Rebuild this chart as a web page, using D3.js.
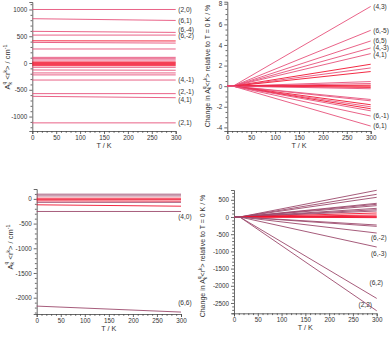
<!DOCTYPE html>
<html>
<head>
<meta charset="utf-8">
<script src="https://cdn.jsdelivr.net/npm/d3@7"></script>
<style>
  body { margin: 0; background: #fff; }
  svg { display: block; font-family: "Liberation Sans", Arial, sans-serif; }
</style>
</head>
<body>
<svg id="chart" width="390" height="337"></svg>
<script>
// crystal-field parameters A_k^q<r^k> vs temperature

// top left: parameters at 0 K and 300 K (cm-1)
const tlLabels = ['(2,0)', '(6,1)', '(6,-4)', '(6,-2)', '', '', '', '', '', '', '', '', '', '', '', '', '', '', '', '(4,-1)', '(2,-1)', '(4,1)', '(2,1)'];
const tlAt0 = [1000, 828, 592, 522, 415, 385, 262, 106, 82, 56, 20, 5, -12, -30, -50, -80, -130, -185, -222, -318, -572, -622, -1118];
const tlAt300 = [1000, 795, 572, 522, 412, 372, 262, 106, 80, 56, 20, 5, -12, -30, -50, -80, -135, -185, -222, -318, -572, -648, -1118];

// top right: change relative to 0 K at 300 K (%)
const trLabels = ['(4,3)', '(6,-5)', '(6,5)', '(4,-3)', '(4,1)', '', '', '', '', '', '', '', '', '', '', '', '', '', '', '', '(6,-1)', '(6,1)'];
const trAt300 = [7.74, 5.42, 4.39, 3.71, 3.16, 2.13, 1.77, 1.42, 0.45, 0.26, 0.1, 0, -0.12, -0.25, -1.29, -1.42, -1.8, -2.0, -2.19, -2.39, -2.9, -3.87];

// bottom left: parameters at 0 K and 300 K (cm-1)
const blLabels = ['', '', '', '', '', '', '', '(4,0)', '(6,6)'];
const blAt0 = [95, 60, 14, -10, -40, -70, -120, -255, -2170];
const blAt300 = [95, 60, 14, -10, -45, -70, -148, -255, -2291];

// bottom right: change relative to 0 K at 300 K (%)
const brLabels = ['', '', '', '', '', '', '', '', '', '', '', '', '', '', '', '', '(6,-2)', '(6,-3)', '(6,2)', '(2,2)'];
const brAt300 = [776, 660, 572, 398, 369, 330, 252, 213, 175, 116, 58, 20, 0, -19, -233, -272, -466, -873, -2367, -2726];

// relative change stays at zero up to this temperature
const onsetT = 12;

const xTicks = [0, 50, 100, 150, 200, 250, 300];

const svg = d3.select('#chart');

const pink = '#e7517a';
const red = '#f2122e';
const mauve = '#9c4a6c';

// panel frames
const panels = {
  tl: { x: [32.3, 175.7], y: [131, 2], dom: [-1270, 1140], major: [-1000, -500, 0, 500, 1000], minor: 100 },
  tr: { x: [227.3, 370.7], y: [131, 1.7], dom: [-4.35, 8.2], major: [-4, -2, 0, 2, 4, 6, 8], minor: 0.5 },
  bl: { x: [36.7, 181], y: [314, 189], dom: [-2330, 200], major: [-2000, -1500, -1000, -500, 0], minor: 100 },
  br: { x: [234, 376.7], y: [313.3, 190], dom: [-2800, 785], major: [-2500, -2000, -1500, -1000, -500, 0, 500], minor: 100 }
};

function frame(p) {
  const x = d3.scaleLinear().domain([0, 300]).range(p.x);
  const y = d3.scaleLinear().domain(p.dom).range(p.y);
  const g = svg.append('g');

  const minorY = d3.range(Math.ceil(p.dom[0] / p.minor) * p.minor, p.dom[1], p.minor)
    .filter((v) => !p.major.some((m) => Math.abs(m - v) < 1e-9));
  const minorX = d3.range(0, 301, 10).filter((v) => v % 50 !== 0);

  g.append('g').attr('transform', `translate(0,${p.y[0]})`)
    .call(d3.axisBottom(x).tickValues(xTicks).tickSize(3).tickPadding(1.5).tickFormat((d) => String(d)));
  g.append('g').attr('transform', `translate(0,${p.y[0]})`)
    .call(d3.axisBottom(x).tickValues(minorX).tickSize(1.8).tickFormat(''))
    .select('.domain').remove();
  g.append('g').attr('transform', `translate(${p.x[0]},0)`)
    .call(d3.axisLeft(y).tickValues(p.major).tickSize(3).tickPadding(2).tickFormat((d) => String(d)));
  g.append('g').attr('transform', `translate(${p.x[0]},0)`)
    .call(d3.axisLeft(y).tickValues(minorY).tickSize(1.8).tickFormat(''))
    .select('.domain').remove();

  g.selectAll('.domain').attr('stroke', '#444').attr('stroke-width', 0.8);
  g.selectAll('.tick line').attr('stroke', '#444').attr('stroke-width', 0.8);
  g.selectAll('.tick text').attr('font-size', 6.3).attr('fill', '#333')
    .attr('font-family', '"Liberation Sans", Arial, sans-serif');

  g.append('text')
    .attr('x', (p.x[0] + p.x[1]) / 2).attr('y', p.y[0] + 17)
    .attr('text-anchor', 'middle').attr('font-size', 7.2).attr('fill', '#333')
    .text('T / K');
  return { x, y, g };
}

// y title: A_k^q<r^k> with stacked indices
function yTitle(x, y, lead, tail, size) {
  const s = size * 0.7;
  const t = svg.append('text')
    .attr('transform', `translate(${x},${y}) rotate(-90)`)
    .attr('text-anchor', 'middle').attr('font-size', size).attr('fill', '#333');
  t.append('tspan').text(lead + 'A');
  t.append('tspan').attr('font-size', s).attr('dy', 1.6).text('k');
  t.append('tspan').attr('font-size', s).attr('dx', -s * 0.5).attr('dy', -size * 0.75).text('q');
  t.append('tspan').attr('dy', size * 0.75 - 1.6).text(tail[0]);
  t.append('tspan').attr('font-size', s).attr('dy', -size * 0.4).text('k');
  t.append('tspan').attr('dy', size * 0.4).text(tail[1]);
  if (tail[2]) {
    t.append('tspan').attr('font-size', s).attr('dy', -size * 0.4).text(tail[2]);
  }
}

function drawLines(f, series, colourOf) {
  const line = d3.line().x((d) => f.x(d[0])).y((d) => f.y(d[1]));
  f.g.append('g').selectAll('path').data(series).enter()
    .append('path')
    .attr('d', (d) => line(d))
    .attr('fill', 'none')
    .attr('stroke', (d, i) => colourOf(i))
    .attr('stroke-width', 0.9);
}

function drawLabels(f, labels, ends, nudge, anchor) {
  labels.forEach((lab, i) => {
    if (!lab) return;
    const n = nudge[lab] || [2.5, 0];
    f.g.append('text')
      .attr('x', f.x(300) + n[0]).attr('y', f.y(ends[i]) + n[1])
      .attr('dy', '0.35em')
      .attr('text-anchor', anchor)
      .attr('font-size', 6.6).attr('fill', '#333')
      .text(lab);
  });
}

// top left
const tlRed = [4, 10, 11, 12, 13, 14];
const ftl = frame(panels.tl);
drawLines(ftl, tlAt0.map((v, i) => [[0, v], [300, tlAt300[i]]]),
  (i) => (tlRed.includes(i) ? red : pink));
drawLabels(ftl, tlLabels, tlAt300,
  { '(6,-4)': [2.5, -3], '(6,-2)': [2.5, 0.5], '(2,-1)': [2.5, -2], '(4,1)': [2.5, 1.5] }, 'start');
yTitle(10, 67, '', [' <r', '> / cm', '-1'], 7.5);

// top right
const trRed = [5, 7, 10, 11, 12, 16, 18];
const ftr = frame(panels.tr);
drawLines(ftr, trAt300.map((v) => [[0, 0], [onsetT, 0], [300, v]]),
  (i) => (trRed.includes(i) ? red : pink));
drawLabels(ftr, trLabels, trAt300, { '(4,-3)': [2.5, -0.5], '(4,1)': [2.5, 0.8] }, 'start');
yTitle(209.5, 66, 'Change in ', ['<r', '> relative to T = 0 K / %'], 7);

// bottom left
const blRed = [2, 3, 4, 6];
const fbl = frame(panels.bl);
drawLines(fbl, blAt0.map((v, i) => [[0, v], [300, blAt300[i]]]),
  (i) => (blRed.includes(i) ? red : mauve));
drawLabels(fbl, blLabels, blAt300, { '(4,0)': [10.7, 5.5], '(6,6)': [10.7, -9.5] }, 'end');
yTitle(12.5, 247, '', [' <r', '> / cm', '-1'], 7.5);

// bottom right
const brRed = [9, 10, 11, 12, 13];
const fbr = frame(panels.br);
drawLines(fbr, brAt300.map((v) => [[0, 0], [onsetT, 0], [300, v]]),
  (i) => (brRed.includes(i) ? red : mauve));
drawLabels(fbr, brLabels, brAt300,
  { '(6,-2)': [10, 4.7], '(6,-3)': [10, 6.3], '(6,2)': [6.3, -16], '(2,2)': [-4.7, -6.5] }, 'end');
yTitle(205, 256, 'Change in ', ['<r', '> relative to T = 0 K / %'], 7);
</script>
</body>
</html>
